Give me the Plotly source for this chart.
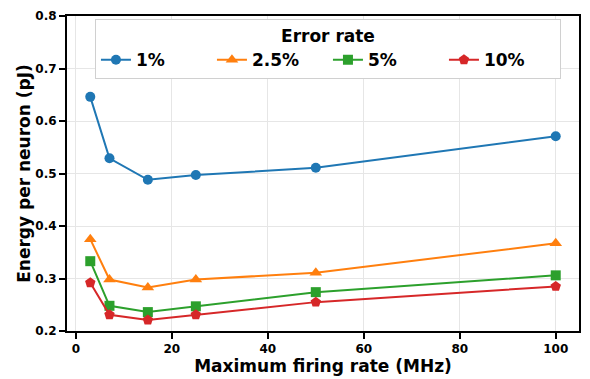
import plotly.graph_objects as go

# Maximum firing rate (MHz)
firing_rate = [3, 7, 15, 25, 50, 100]

# Energy per neuron (pJ) for each error rate
energy_1 = [0.646, 0.529, 0.488, 0.497, 0.511, 0.571]
energy_2_5 = [0.375, 0.298, 0.283, 0.298, 0.311, 0.367]
energy_5 = [0.333, 0.248, 0.236, 0.247, 0.274, 0.306]
energy_10 = [0.292, 0.231, 0.221, 0.231, 0.255, 0.285]

series_names = ["1%", "2.5%", "5%", "10%"]
series_values = [energy_1, energy_2_5, energy_5, energy_10]
colors = ["#1f77b4", "#ff7f0e", "#2ca02c", "#d62728"]
symbols = ["circle", "triangle-up", "square", "pentagon"]
sizes = [10, 11, 10, 11]

fig = go.Figure()
for name, vals, col, sym, sz in zip(series_names, series_values, colors, symbols, sizes):
    fig.add_trace(go.Scatter(
        x=firing_rate, y=vals, name=name, mode="lines+markers",
        line=dict(color=col, width=2),
        marker=dict(symbol=sym, size=sz, color=col),
    ))

bold = dict(family="DejaVu Sans", color="black", weight="bold")

axis_common = dict(
    showline=True, linecolor="black", linewidth=2, mirror=True,
    ticks="outside", ticklen=6, tickwidth=1.5, tickcolor="black",
    showgrid=True, gridcolor="#e6e6e6", gridwidth=1,
    zeroline=False,
    tickfont=dict(size=12, **bold),
)

fig.update_layout(
    width=590, height=379,
    margin=dict(l=67, r=10, t=9, b=47),
    paper_bgcolor="white", plot_bgcolor="white",
    xaxis=dict(
        range=[-1.85, 104.85], tickvals=[0, 20, 40, 60, 80, 100],
        title=dict(text="Maximum firing rate (MHz)", font=dict(size=17, **bold), standoff=2),
        **axis_common,
    ),
    yaxis=dict(
        range=[0.2, 0.8], tickvals=[0.2, 0.3, 0.4, 0.5, 0.6, 0.7, 0.8], tickformat=".1f",
        title=dict(text="Energy per neuron (pJ)", font=dict(size=17, **bold), standoff=0),
        **axis_common,
    ),
    legend=dict(
        title=dict(text="Error rate", side="top center", font=dict(size=17, **bold)),
        orientation="h",
        x=0.0546, y=0.99, xanchor="left", yanchor="top",
        bgcolor="white", bordercolor="#d0d0d0", borderwidth=1,
        font=dict(size=17, **bold),
        itemwidth=30,
        entrywidth=71, entrywidthmode="pixels",
    ),
    showlegend=True,
)

fig.write_html("out.html")
